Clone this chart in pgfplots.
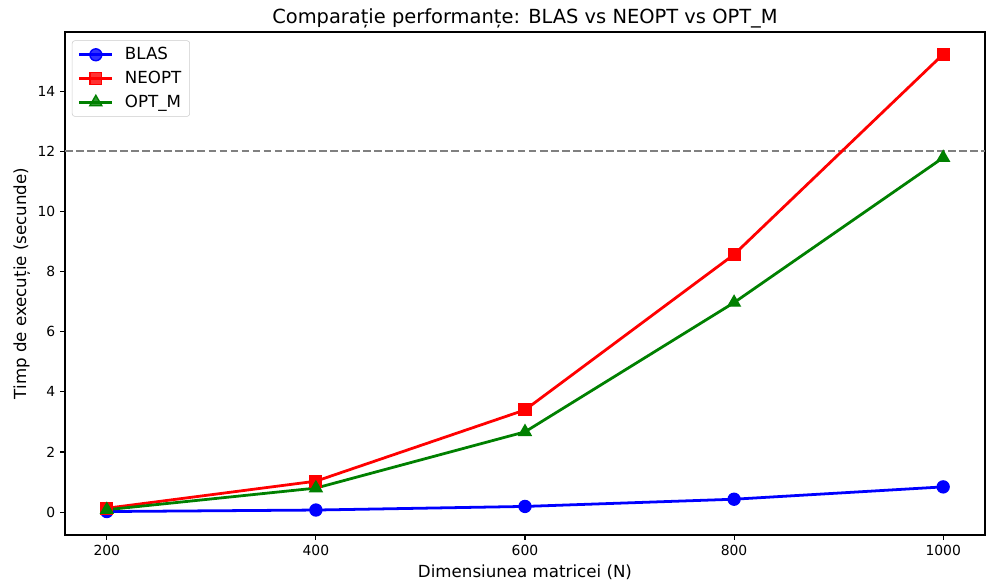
\documentclass[border=0pt]{standalone}
\usepackage{fontspec}
\setmainfont{DejaVu Sans}
\usepackage{pgfplots}
\pgfplotsset{compat=1.18}
\definecolor{mplgreen}{RGB}{0,128,0}
\begin{document}
\begin{tikzpicture}
\useasboundingbox (-46.8pt,-33.84pt) rectangle (671.04pt,385.2pt);
\begin{axis}[
  at={(0,0)}, anchor=south west,
  scale only axis, width=662.4pt, height=362.16pt,
  xmin=160, xmax=1040, ymin=-0.76, ymax=15.97,
  xtick={200,400,600,800,1000},
  ytick={0,2,4,6,8,10,12,14},
  tick align=outside, major tick length=3.5pt,
  tick style={black, line width=0.8pt},
  axis line style={line width=0.8pt},
  xtick pos=bottom, ytick pos=left,
  /pgf/number format/assume math mode=true,
  /pgf/number format/1000 sep={},
  tick label style={font=\fontsize{10}{12}\selectfont},
  label style={font=\fontsize{12}{14}\selectfont},
  ylabel style={yshift=-1.5pt},
  title style={font=\fontsize{14}{16}\selectfont, yshift=-7pt},
  title={Comparație performanțe: BLAS vs NEOPT vs OPT\_M},
  xlabel={Dimensiunea matricei (N)},
  ylabel={Timp de execuție (secunde)},
  legend style={at={(0,1)}, anchor=north west, xshift=5pt, yshift=-6pt,
    rounded corners=2pt, draw=black!20, fill=white, fill opacity=0.8, text opacity=1,
    font=\fontsize{12}{14}\selectfont, row sep=2.7pt, inner xsep=2pt, inner ysep=3pt,
    nodes={inner xsep=4pt}},
  legend cell align=left,
  legend image code/.code={\path (-2pt,0pt) (28pt,0pt); \draw[mark repeat=2,mark phase=2] plot coordinates {(0pt,0pt)(12pt,0pt)(24pt,0pt)};},
]
\addplot[gray, line width=1.5pt, dash pattern=on 5.55pt off 2.4pt, forget plot] coordinates {(160,12) (1040,12)};
\addplot[blue, line width=2pt, mark=*, mark size=4.3pt, mark options={solid, line width=1pt}] coordinates {
(200,0.02) (400,0.07) (600,0.19) (800,0.43) (1000,0.84)};
\addlegendentry{BLAS}
\addplot[red, line width=2pt, mark=square*, mark size=4.2pt, mark options={solid, line width=1pt}] coordinates {
(200,0.13) (400,1.03) (600,3.40) (800,8.57) (1000,15.23)};
\addlegendentry{NEOPT}
\addplot[mplgreen, line width=2pt, mark=triangle*, mark size=5pt, mark options={solid, line width=1pt}] coordinates {
(200,0.08) (400,0.80) (600,2.67) (800,6.97) (1000,11.79)};
\addlegendentry{OPT\_M}
\end{axis}
\end{tikzpicture}
\end{document}
